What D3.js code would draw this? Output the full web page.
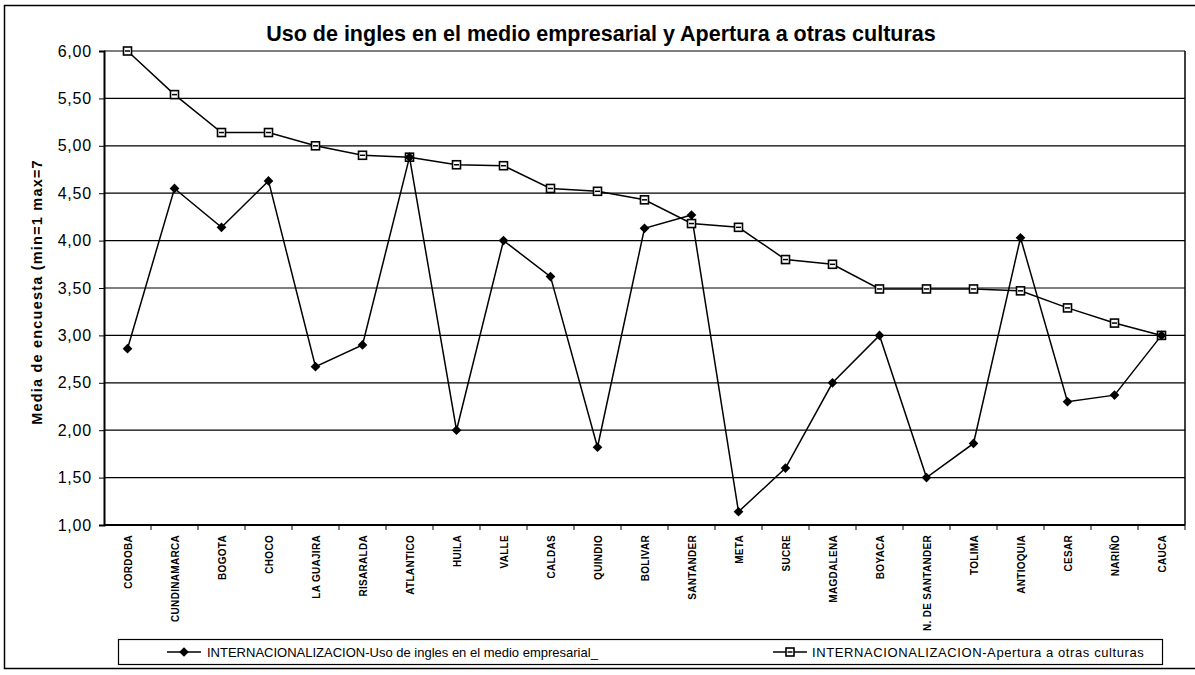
<!DOCTYPE html>
<html>
<head>
<meta charset="utf-8">
<script src="https://cdn.jsdelivr.net/npm/d3@7"></script>
<style>
  body { margin: 0; background: #fff; }
  text { font-family: "Liberation Sans", Arial, sans-serif; fill: #000; }
</style>
</head>
<body>
<div id="chart"></div>
<script>
// departamentos, en el orden del grafico
const departamentos = ["CORDOBA", "CUNDINAMARCA", "BOGOTA", "CHOCO", "LA GUAJIRA", "RISARALDA",
  "ATLANTICO", "HUILA", "VALLE", "CALDAS", "QUINDIO", "BOLIVAR", "SANTANDER", "META", "SUCRE",
  "MAGDALENA", "BOYACA", "N. DE SANTANDER", "TOLIMA", "ANTIOQUIA", "CESAR", "NARIÑO", "CAUCA"];

// media de encuesta, uso de ingles en el medio empresarial
const usoIngles = [2.86, 4.55, 4.14, 4.63, 2.67, 2.90, 4.88, 2.00, 4.00, 3.62, 1.82, 4.13, 4.27,
  1.14, 1.60, 2.50, 3.00, 1.50, 1.86, 4.03, 2.30, 2.37, 3.00];

// media de encuesta, apertura a otras culturas
const apertura = [6.00, 5.54, 5.14, 5.14, 5.00, 4.90, 4.88, 4.80, 4.79, 4.55, 4.52, 4.43, 4.18,
  4.14, 3.80, 3.75, 3.49, 3.49, 3.49, 3.47, 3.29, 3.13, 3.00];

const yTicks = [1, 1.5, 2, 2.5, 3, 3.5, 4, 4.5, 5, 5.5, 6];

const serie1 = "INTERNACIONALIZACION-Uso de ingles en el medio empresarial_";
const serie2 = "INTERNACIONALIZACION-Apertura a otras culturas";

const W = 1195, H = 675;
const margin = { top: 51, right: 10, bottom: 150, left: 104 };
const width = 1185 - margin.left, height = 525 - margin.top;

const svg = d3.select("#chart").append("svg")
  .attr("width", W).attr("height", H);

// marco exterior (el borde derecho queda fuera de la imagen)
svg.append("rect")
  .attr("x", 4.5).attr("y", 5.5).attr("width", 1200).attr("height", 663)
  .attr("fill", "none").attr("stroke", "#000").attr("stroke-width", 1.5);

const g = svg.append("g").attr("transform", `translate(${margin.left}, ${margin.top})`);

const x = d3.scaleBand().domain(departamentos).range([0, width]);
const y = d3.scaleLinear().domain([1, 6]).range([height, 0]);

// lineas de division
g.append("g").selectAll("line")
  .data(yTicks)
  .join("line")
  .attr("x1", 0).attr("x2", width)
  .attr("y1", d => y(d)).attr("y2", d => y(d))
  .attr("stroke", "#000").attr("stroke-width", 1.2);

// borde derecho del area de trazado
g.append("line")
  .attr("x1", width).attr("x2", width).attr("y1", 0).attr("y2", height)
  .attr("stroke", "#000").attr("stroke-width", 1.5);

// eje y
const yAxis = g.append("g")
  .call(d3.axisLeft(y).tickValues(yTicks).tickSize(5).tickPadding(7)
    .tickFormat(d => d3.format(".2f")(d).replace(".", ",")));
yAxis.select(".domain").attr("stroke-width", 2);
yAxis.selectAll("text").style("font-size", "16px").style("letter-spacing", "0.8px");

// eje x, marcas entre categorias
const xAxis = g.append("g").attr("transform", `translate(0, ${height})`);
xAxis.append("line").attr("x1", 0).attr("x2", width).attr("stroke", "#000").attr("stroke-width", 2);
xAxis.selectAll(".tk")
  .data(departamentos)
  .join("line")
  .attr("class", "tk")
  .attr("x1", d => x(d) + x.bandwidth()).attr("x2", d => x(d) + x.bandwidth())
  .attr("y1", 0).attr("y2", 5)
  .attr("stroke", "#000");
xAxis.selectAll(".lbl")
  .data(departamentos)
  .join("text")
  .attr("class", "lbl")
  .attr("transform", d => `translate(${x(d) + x.bandwidth() / 2 + 4}, 10) rotate(-90)`)
  .attr("text-anchor", "end")
  .style("font-size", "10px")
  .style("font-weight", "bold")
  .style("letter-spacing", "0.3px")
  .text(d => d);

const cx = d => x(d) + x.bandwidth() / 2;

const line = d3.line()
  .x(d => cx(d[0]))
  .y(d => y(d[1]));

const datos1 = departamentos.map((d, i) => [d, usoIngles[i]]);
const datos2 = departamentos.map((d, i) => [d, apertura[i]]);

g.append("path").datum(datos2)
  .attr("d", line).attr("fill", "none").attr("stroke", "#000").attr("stroke-width", 1.5);
g.append("path").datum(datos1)
  .attr("d", line).attr("fill", "none").attr("stroke", "#000").attr("stroke-width", 1.5);

// marcadores cuadrados
function cuadrado(sel, s) {
  sel.append("rect")
    .attr("x", -s / 2).attr("y", -s / 2).attr("width", s).attr("height", s)
    .attr("fill", "#fff").attr("stroke", "#000").attr("stroke-width", 1.6);
  sel.append("line").attr("x1", -s / 2 + 1.5).attr("x2", s / 2 - 1.5).attr("y1", 0).attr("y2", 0)
    .attr("stroke", "#000").attr("stroke-width", 1.5);
}
g.append("g").selectAll("g")
  .data(datos2)
  .join("g")
  .attr("transform", d => `translate(${cx(d[0])}, ${y(d[1])})`)
  .each(function () { cuadrado(d3.select(this), 8); });

// marcadores rombo
const rombo = d3.symbol().type(d3.symbolDiamond2).size(60);
g.append("g").selectAll("path")
  .data(datos1)
  .join("path")
  .attr("transform", d => `translate(${cx(d[0])}, ${y(d[1])})`)
  .attr("d", rombo)
  .attr("fill", "#000");

// titulo
svg.append("text")
  .attr("x", 601).attr("y", 41)
  .attr("text-anchor", "middle")
  .style("font-size", "21.5px").style("font-weight", "bold")
  .text("Uso de ingles en el medio empresarial y Apertura a otras culturas");

// titulo eje y
svg.append("text")
  .attr("transform", `translate(42, 292) rotate(-90)`)
  .attr("text-anchor", "middle")
  .style("font-size", "14.5px").style("font-weight", "bold").style("letter-spacing", "1.2px")
  .text("Media de encuesta (min=1 max=7");

// leyenda
const leg = svg.append("g");
leg.append("rect")
  .attr("x", 118.5).attr("y", 639.5).attr("width", 1044).attr("height", 25)
  .attr("fill", "none").attr("stroke", "#000").attr("stroke-width", 1.2);

const l1 = leg.append("g").attr("transform", "translate(184, 652)");
l1.append("line").attr("x1", -17).attr("x2", 17).attr("stroke", "#000").attr("stroke-width", 1.5);
l1.append("path").attr("d", rombo).attr("fill", "#000");
leg.append("text").attr("x", 207).attr("y", 657).style("font-size", "13px").text(serie1);

const l2 = leg.append("g").attr("transform", "translate(790, 652)");
l2.append("line").attr("x1", -17).attr("x2", 17).attr("stroke", "#000").attr("stroke-width", 1.5);
cuadrado(l2, 8);
leg.append("text").attr("x", 812).attr("y", 657).style("font-size", "13px")
  .style("letter-spacing", "0.6px").text(serie2);
</script>
</body>
</html>
